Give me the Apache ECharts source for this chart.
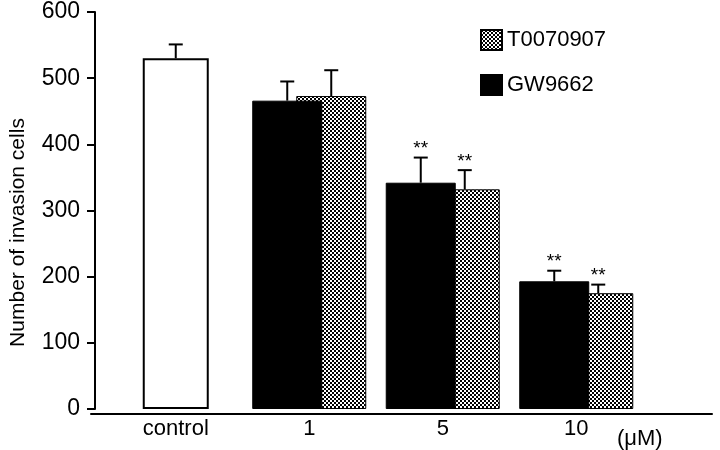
<!DOCTYPE html>
<html>
<head>
<meta charset="utf-8">
<script src="https://cdn.jsdelivr.net/npm/echarts@6/dist/echarts.min.js"></script>
<style>
html,body{margin:0;padding:0;background:#fff;}
#chart{width:720px;height:450px;}
</style>
</head>
<body>
<div id="chart"></div>
<script>
// ---- data ----
const categories = ['control', '1', '5', '10'];
const unitLabel = '(μM)';
const yTicks = [0, 100, 200, 300, 400, 500, 600];
const controlMean = [530, null, null, null];
const controlErr  = [21, null, null, null];
const gwMean = [null, 466, 342, 193];
const gwErr  = [null, 29, 38, 16];
const tMean  = [null, 473, 332, 175];
const tErr   = [null, 39, 29, 13];
const gwSig  = ['', '', '**', '**'];
const tSig   = ['', '', '**', '**'];
const seriesNames = ['GW9662', 'T0070907'];

// ---- pattern ----
function checker() {
  const c = document.createElement('canvas');
  c.width = 4; c.height = 4;
  const g = c.getContext('2d');
  g.fillStyle = '#fff'; g.fillRect(0, 0, 4, 4);
  g.fillStyle = '#000';
  g.fillRect(0, 0, 2, 2); g.fillRect(2, 2, 2, 2);
  return c;
}
const patternFill = { image: checker(), repeat: 'repeat' };

const FONT = "'Liberation Sans', Arial, Helvetica, sans-serif";

function errItems(mean, err) {
  const out = [];
  mean.forEach((m, i) => { if (m != null) out.push([i, m, err[i]]); });
  return out;
}
function errSeries(name, mean, err, sig, offset, xi) {
  return {
    type: 'custom', name: name + '_err', xAxisIndex: xi, yAxisIndex: 0, z: 5,
    silent: true,
    data: errItems(mean, err),
    renderItem: function (params, api) {
      const top = api.coord([api.value(0), api.value(1)]);
      const cap = api.coord([api.value(0), api.value(1) + api.value(2)]);
      const x = top[0] + offset;
      const half = 7;
      const children = [
        { type: 'line', shape: { x1: x, y1: top[1], x2: x, y2: cap[1] }, style: { stroke: '#000', lineWidth: 2 } },
        { type: 'line', shape: { x1: x - half, y1: cap[1], x2: x + half, y2: cap[1] }, style: { stroke: '#000', lineWidth: 2 } }
      ];
      const s = sig ? sig[api.value(0)] : '';
      if (s) {
        children.push({ type: 'text', style: { text: s, x: x, y: cap[1] + 1, align: 'center', verticalAlign: 'bottom', fill: '#000', font: '19px ' + FONT } });
      }
      return { type: 'group', children: children };
    }
  };
}

const chart = echarts.init(document.getElementById('chart'), null, { renderer: 'canvas' });
chart.setOption({
  animation: false,
  backgroundColor: '#fff',
  textStyle: { fontFamily: FONT, color: '#000' },
  grid: [
    { left: 105, right: 77, top: 12, bottom: 36 },
    { left: 91, right: 8, top: 12, bottom: 36 }
  ],
  legend: {
    orient: 'vertical', left: 480, top: 29, itemGap: 23, padding: 0,
    itemWidth: 21, itemHeight: 20, icon: 'rect',
    data: [seriesNames[1], seriesNames[0]],
    textStyle: { fontSize: 22, color: '#000', fontFamily: FONT },
    selectedMode: false
  },
  xAxis: [
    {
      type: 'category', gridIndex: 0, data: categories,
      axisLine: { show: false }, axisTick: { show: false },
      axisLabel: { fontSize: 22, color: '#000', margin: 9, fontFamily: FONT },
      name: unitLabel, nameLocation: 'end', nameGap: -26,
      nameTextStyle: { fontSize: 22, color: '#000', verticalAlign: 'top', padding: [19, 0, 0, 0], fontFamily: FONT }
    },
    {
      type: 'category', gridIndex: 0, data: categories, show: false
    },
    {
      type: 'value', gridIndex: 1, min: 0, max: 1,
      axisLine: { show: true, lineStyle: { color: '#000', width: 2 } },
      axisTick: { show: false }, axisLabel: { show: false }, splitLine: { show: false }
    }
  ],
  yAxis: [
    {
      type: 'value', gridIndex: 0, min: yTicks[0], max: yTicks[yTicks.length - 1], interval: 100,
      offset: 14,
      axisLine: { show: true, lineStyle: { color: '#000', width: 2 } },
      axisTick: { show: true, length: 8, lineStyle: { color: '#000', width: 2 } },
      axisLabel: { fontSize: 23, color: '#000', margin: 15, fontFamily: FONT },
      splitLine: { show: false },
      name: 'Number of invasion cells', nameLocation: 'middle', nameGap: 66,
      nameTextStyle: { fontSize: 21, color: '#000', fontFamily: FONT, padding: [0, 44, 0, 0] }
    },
    { type: 'value', gridIndex: 1, show: false, min: 0, max: 1 }
  ],
  series: [
    {
      name: 'control', type: 'bar', xAxisIndex: 1, yAxisIndex: 0,
      data: controlMean, barWidth: 66, z: 2,
      itemStyle: { color: '#fff', borderColor: '#000', borderWidth: 2 }
    },
    {
      name: seriesNames[0], type: 'bar', xAxisIndex: 0, yAxisIndex: 0,
      data: gwMean, barWidth: 70, z: 3,
      itemStyle: { color: '#000', borderColor: '#000', borderWidth: 1 }
    },
    {
      name: seriesNames[1], type: 'bar', xAxisIndex: 0, yAxisIndex: 0,
      data: tMean, barWidth: 70, barGap: '-37.14%', z: 2,
      itemStyle: { color: patternFill, borderColor: '#000', borderWidth: 1 }
    },
    errSeries('control', controlMean, controlErr, null, 0, 1),
    errSeries(seriesNames[0], gwMean, gwErr, gwSig, -22, 0),
    errSeries(seriesNames[1], tMean, tErr, tSig, 22, 0)
  ]
});
</script>
</body>
</html>
